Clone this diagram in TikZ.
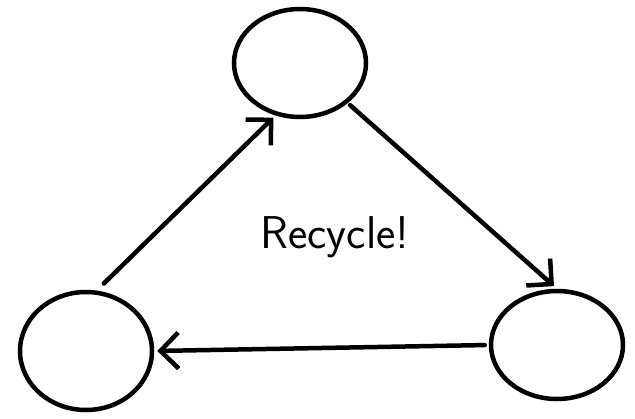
\documentclass[tikz,border=0pt]{standalone}
\usepackage{tikz}
\usetikzlibrary{arrows.meta,shapes.geometric}

\begin{document}
\begin{tikzpicture}[x=1pt, y=-1pt, line width=4.5pt, line cap=round, every node/.style={font=\sffamily\fontsize{46}{52}\selectfont}, stage/.style={draw, ellipse, minimum width=132pt, minimum height=108pt, inner sep=0pt, line width=4.5pt}, flow/.style={-{Straight Barb[length=18pt, width=36pt, line width=4.5pt]}, line width=4.5pt}]
	\useasboundingbox (0,0) rectangle (635,418);
	\node[stage] (top) at (300,63) {};
	\node[stage, minimum height=118pt] (left) at (86,351) {};
	\node[stage] (right) at (557,345) {};
	\draw[flow, shorten <=3pt, shorten >=4pt] (top.-40) -- (right.north);
	\draw[flow, shorten <=4pt, shorten >=3pt] (right.west) -- (left.east);
	\draw[flow, shorten <=10pt, shorten >=3pt] (left.80) -- (top.245);
	\node (label) at (335,237) {Recycle!};
\end{tikzpicture}
\end{document}
